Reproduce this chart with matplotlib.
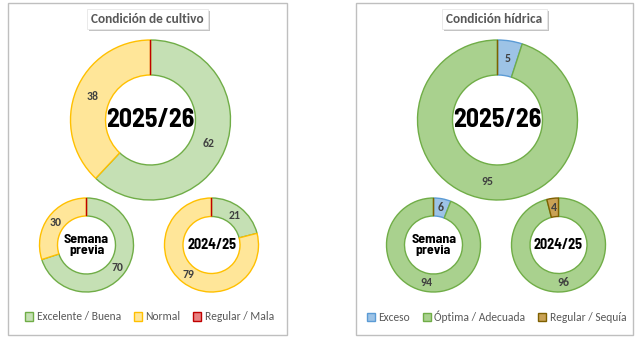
import matplotlib.pyplot as plt
from matplotlib.patches import Rectangle
import matplotlib.patheffects as pe

# data
cultivo_names = ['Excelente / Buena', 'Normal', 'Regular / Mala']
cultivo_actual = [62, 38, 0]
cultivo_semana = [70, 30, 0]
cultivo_previo = [21, 79, 0]

hidrica_names = ['Exceso', 'Óptima / Adecuada', 'Regular / Sequía']
hidrica_actual = [5, 95, 0]
hidrica_semana = [6, 94, 0]
hidrica_previo = [0, 96, 4]

cultivo_fill = ['#c5e0b4', '#ffe699', '#e88080']
cultivo_edge = ['#70ad47', '#ffc000', '#c00000']
hidrica_fill = ['#9dc3e6', '#a9d18e', '#c9a255']
hidrica_edge = ['#5b9bd5', '#70ad47', '#7f6000']

txt_font = ['Carlito', 'DejaVu Sans']
num_font = ['Barlow Semi Condensed', 'DejaVu Sans']

W, H = 640, 341
fig = plt.figure(figsize=(6.4, 3.41), dpi=100)
ax = fig.add_axes([0, 0, 1, 1])


def donut(vals, cx, cy, r, inner, fill, edge, center_txt, center_size):
    wedges, texts = ax.pie(vals, radius=r, center=(cx, H - cy), startangle=90,
                           counterclock=False, colors=fill,
                           labels=[str(v) if v > 0 else '' for v in vals],
                           labeldistance=(r + inner) / 2 / r,
                           wedgeprops=dict(width=r - inner, linewidth=1.0),
                           textprops=dict(fontsize=8.5, fontweight='bold',
                                          color='#404040', family=txt_font))
    for w, ec in zip(wedges, edge):
        w.set_edgecolor(ec)
    for t in texts:
        t.set_ha('center')
        t.set_va('center')
    ax.text(cx, H - cy, center_txt, ha='center', va='center', fontsize=center_size,
            fontweight='bold', family=num_font, color='black', linespacing=1.0)
    return wedges


def panel(x0, x1, title, names, actual, semana, previo, fill, edge):
    ax.add_patch(Rectangle((x0, H - 335), x1 - x0, 332, fill=False,
                           edgecolor='#bfbfbf', lw=1.0))
    xc = (x0 + x1) / 2
    t = ax.text(xc, H - 19, title, ha='center', va='center', fontsize=9.6,
                fontweight='bold', color='#595959', family=txt_font,
                bbox=dict(boxstyle='square,pad=0.3', fc='white', ec='#e6e6e6', lw=0.6))
    t.get_bbox_patch().set_path_effects([
        pe.SimplePatchShadow(offset=(1.5, -1.5), shadow_rgbFace='#888888', alpha=0.5),
        pe.Normal()])
    big = donut(actual, xc + 3, 120, 80, 45, fill, edge, '2025/26', 18.5)
    donut(semana, xc - 61, 245, 47, 29, fill, edge, 'Semana\nprevia', 10)
    donut(previo, xc + 64, 245, 47, 28.5, fill, edge, '2024/25', 10.2)
    ax.legend(big, names, loc='center', bbox_to_anchor=(xc + 2, H - 317),
              bbox_transform=ax.transData, ncol=3, frameon=False,
              handlelength=0.7, handleheight=0.7, handletextpad=0.3,
              columnspacing=1.1, labelcolor='#595959',
              prop=dict(family=txt_font, size=8.3))


panel(8, 287, 'Condición de cultivo', cultivo_names, cultivo_actual,
      cultivo_semana, cultivo_previo, cultivo_fill, cultivo_edge)
leg1 = ax.get_legend()
panel(356, 633, 'Condición hídrica', hidrica_names, hidrica_actual,
      hidrica_semana, hidrica_previo, hidrica_fill, hidrica_edge)
ax.add_artist(leg1)

ax.set_xlim(0, W)
ax.set_ylim(0, H)
ax.set_aspect('equal')
ax.axis('off')

fig.savefig('out.png', dpi=100)
